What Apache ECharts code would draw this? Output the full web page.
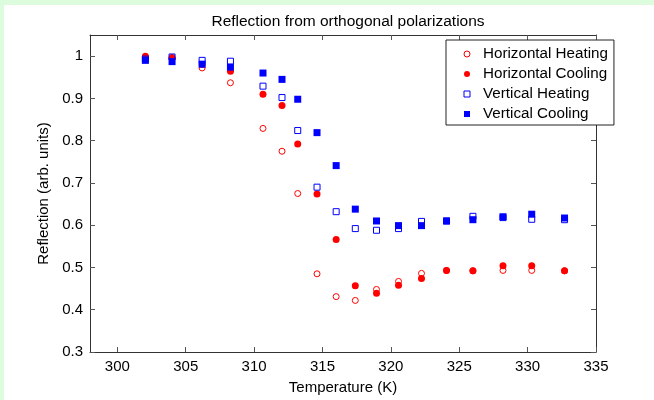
<!DOCTYPE html>
<html>
<head>
<meta charset="utf-8">
<script src="https://cdn.jsdelivr.net/npm/echarts@6/dist/echarts.min.js"></script>
<style>
  html, body { margin: 0; padding: 0; background: #ddfcdd; }
  #bg { position: absolute; left: 4px; top: 5px; width: 650px; height: 395px; background: #ffffff; }
  #chart { position: absolute; left: 0; top: 0; width: 654px; height: 400px; }
</style>
</head>
<body>
<div id="bg"></div>
<div id="chart"></div>
<script>
const temperatures = [302.05, 304.0, 306.2, 308.27, 310.65, 312.04, 313.19, 314.6, 316.0, 317.4, 318.95, 320.56, 322.24, 324.07, 326.0, 328.2, 330.3, 332.7];
const horizontalHeating = [0.998, 0.997, 0.972, 0.937, 0.829, 0.775, 0.675, 0.485, 0.431, 0.422, 0.448, 0.467, 0.486, 0.493, 0.492, 0.493, 0.493, 0.492];
const horizontalCooling = [1.0, 0.995, 0.980, 0.964, 0.910, 0.883, 0.792, 0.674, 0.566, 0.457, 0.439, 0.458, 0.474, 0.493, 0.492, 0.504, 0.504, 0.492];
const verticalHeating = [0.993, 0.998, 0.990, 0.988, 0.929, 0.902, 0.824, 0.690, 0.632, 0.592, 0.588, 0.592, 0.609, 0.610, 0.621, 0.618, 0.614, 0.613];
const verticalCooling = [0.990, 0.987, 0.981, 0.974, 0.960, 0.945, 0.898, 0.819, 0.741, 0.638, 0.610, 0.599, 0.599, 0.610, 0.613, 0.620, 0.626, 0.617];
const xTicks = [300, 305, 310, 315, 320, 325, 330, 335];
const yTicks = [0.3, 0.4, 0.5, 0.6, 0.7, 0.8, 0.9, 1.0];
const seriesNames = ['Horizontal Heating', 'Horizontal Cooling', 'Vertical Heating', 'Vertical Cooling'];
const legendIcons = ['circle', 'circle', 'rect', 'rect'];

function pairs(vals) { return temperatures.map((t, i) => [t, vals[i]]); }

const font = 'Liberation Sans, Arial, sans-serif';
const axisCol = '#333333';
const tickCol = '#555555';

const chart = echarts.init(document.getElementById('chart'), null, { renderer: 'canvas' });

const baseX = {
  type: 'value', min: 298, max: 335,
  splitLine: { show: false },
  axisLine: { show: true, onZero: false, lineStyle: { color: axisCol, width: 1 } },
  axisTick: { show: true, inside: true, length: 5, customValues: xTicks, lineStyle: { color: tickCol } }
};
const baseY = {
  type: 'value', min: 0.3, max: 1.05,
  splitLine: { show: false },
  axisLine: { show: true, onZero: false, lineStyle: { color: axisCol, width: 1 } },
  axisTick: { show: true, inside: true, length: 5, customValues: yTicks, lineStyle: { color: tickCol } }
};

const option = {
  animation: false,
  backgroundColor: 'transparent',
  title: {
    text: 'Reflection from orthogonal polarizations',
    left: 343, top: 9, textAlign: 'center',
    textStyle: { fontFamily: font, fontSize: 15.5, fontWeight: 'normal', color: '#000' }
  },
  grid: { left: 90, right: 58, top: 35, bottom: 42, containLabel: false },
  legend: {
    orient: 'vertical', left: 446, top: 40,
    padding: [6.5, 6, 3.5, 17.5], itemGap: 5,
    itemWidth: 6, itemHeight: 6,
    backgroundColor: '#fff', borderColor: '#222', borderWidth: 1, borderRadius: 0,
    itemStyle: { borderWidth: 1 },
    textStyle: { fontFamily: font, fontSize: 15.2, color: '#000', padding: [0, 0, 0, 8] },
    data: seriesNames.map((n, i) => ({ name: n, icon: legendIcons[i] }))
  },
  xAxis: [
    Object.assign({}, baseX, {
      position: 'bottom',
      name: 'Temperature (K)', nameLocation: 'middle', nameGap: 28,
      nameTextStyle: { fontFamily: font, fontSize: 15, color: '#000' },
      axisLabel: { show: true, customValues: xTicks, margin: 7, fontFamily: font, fontSize: 15, color: '#000' }
    }),
    Object.assign({}, baseX, { position: 'top', axisLabel: { show: false } })
  ],
  yAxis: [
    Object.assign({}, baseY, {
      position: 'left',
      name: 'Reflection (arb. units)', nameLocation: 'middle', nameGap: 28,
      nameTextStyle: { fontFamily: font, fontSize: 15, color: '#000' },
      axisLabel: { show: true, customValues: yTicks, margin: 7, fontFamily: font, fontSize: 15, color: '#000',
        formatter: v => (Math.round(v * 10) / 10).toString() }
    }),
    Object.assign({}, baseY, { position: 'right', axisLabel: { show: false } })
  ],
  series: [
    { name: seriesNames[0], type: 'scatter', symbol: 'circle', symbolSize: 6,
      itemStyle: { color: 'rgba(255,255,255,0)', borderColor: '#ff0000', borderWidth: 1, opacity: 1 },
      data: pairs(horizontalHeating) },
    { name: seriesNames[1], type: 'scatter', symbol: 'circle', symbolSize: 7,
      itemStyle: { color: '#ff0000', borderWidth: 0, opacity: 1 },
      data: pairs(horizontalCooling) },
    { name: seriesNames[2], type: 'scatter', symbol: 'rect', symbolSize: 6,
      itemStyle: { color: 'rgba(255,255,255,0)', borderColor: '#0000ff', borderWidth: 1, opacity: 1 },
      data: pairs(verticalHeating) },
    { name: seriesNames[3], type: 'scatter', symbol: 'rect', symbolSize: 7,
      itemStyle: { color: '#0000ff', borderWidth: 0, opacity: 1 },
      data: pairs(verticalCooling) }
  ]
};
chart.setOption(option);
</script>
</body>
</html>
